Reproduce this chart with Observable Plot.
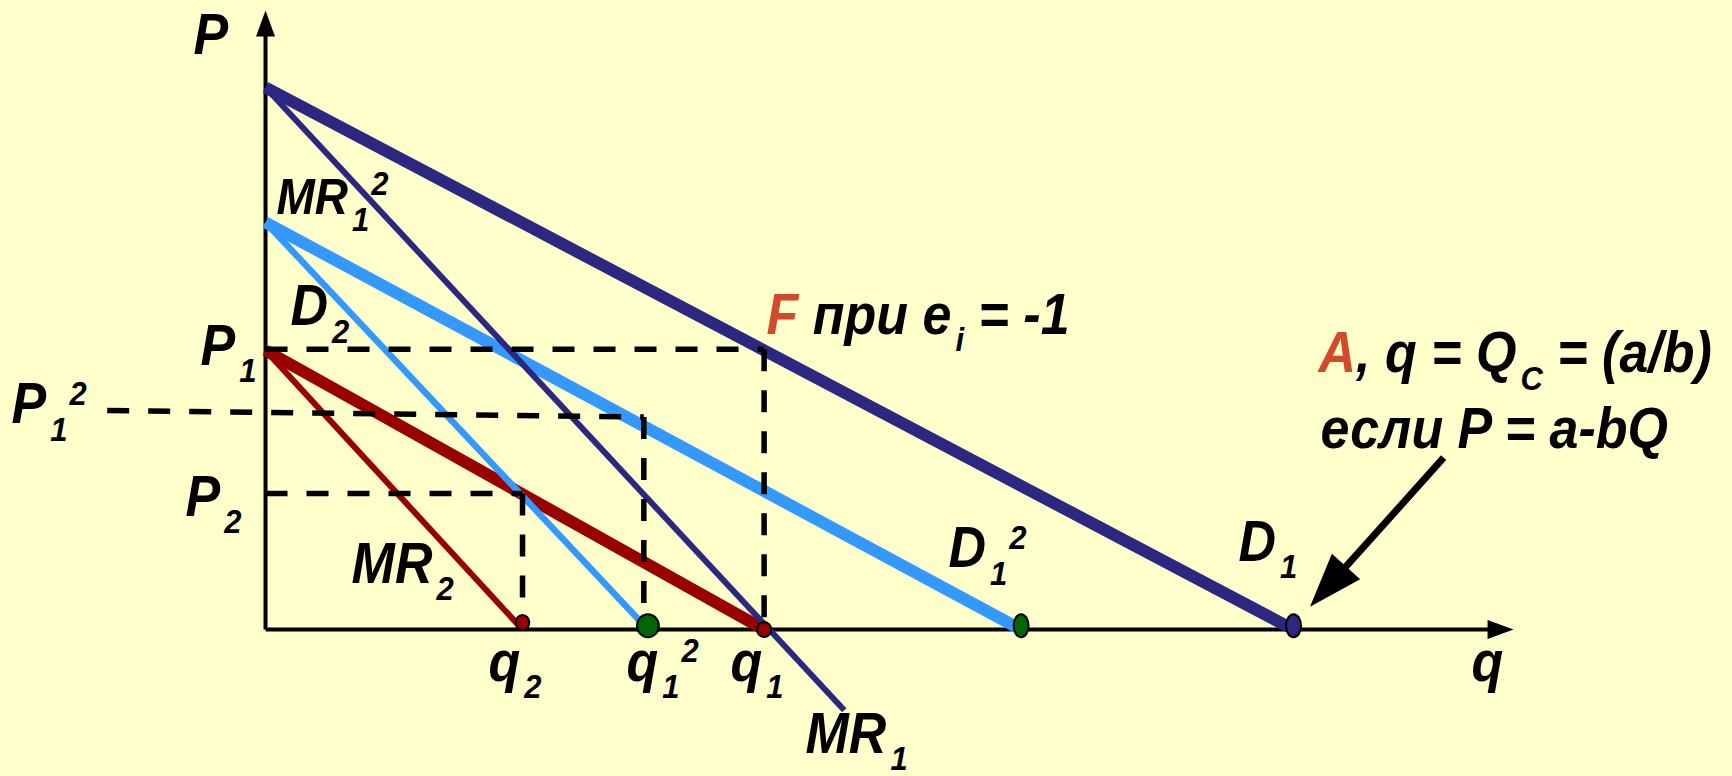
<!DOCTYPE html>
<html>
<head>
<meta charset="utf-8">
<script src="https://cdn.jsdelivr.net/npm/d3@7"></script>
<script src="https://cdn.jsdelivr.net/npm/@observablehq/plot@0.6"></script>
<style>
html, body { margin: 0; padding: 0; background: #FFFFCC; overflow: hidden; }
#chart svg text { white-space: pre; }
</style>
</head>
<body>
<div id="chart"></div>
<script>
// ---------- data (q = quantity, P = price, abstract units) ----------
// Demand / marginal revenue lines: start and end points
const curveNames  = ["MR2", "D2", "MR1^2", "D1^2", "MR1", "D1"];
const curveStartQ = [0,    0,    0,    0,    0,    0];
const curveStartP = [5.15, 5.15, 7.51, 7.51, 10,   10];
const curveEndQ   = [2.50, 4.85, 3.72, 7.35, 5.63, 10];
const curveEndP   = [0,    0,    0,    0,   -1.49, 0];

// Dashed guide segments (P1, P1^2, P2 levels and q1, q1^2, q2 drops)
const guideStartQ = [0,    4.85, -1.54, 3.68, 0,    2.50];
const guideStartP = [5.17, 5.17, 4.04,  3.92, 2.51, 2.51];
const guideEndQ   = [4.85, 4.85, 3.68,  3.68, 2.50, 2.50];
const guideEndP   = [5.17, 0,    3.92,  0,    2.51, 0.10];

// Points on the q axis
const pointNames = ["q2", "q1^2", "q1", "D1^2 end", "D1 end"];
const pointQ     = [2.50, 3.72, 4.85, 7.35, 10];
const pointP     = [0.13, 0.07, 0,    0.07, 0.07];

// Axes extents (arrow tips)
const qAxisTip = 12.14;
const pAxisTip = 11.42;

// Annotation arrow pointing at A
const noteArrowStart = [11.46, 3.17];
const noteArrowTip   = [10.16, 0.42];

// Labels ( _x = subscript, ^x = superscript, {..} = red )
const labelText = ["P", "MR_1^2", "D_2", "P_1", "P_1^2", "P_2", "MR_2", "q_2", "q_1^2", "q_1",
                   "MR_1", "q", "D_1^2", "D_1", "{F} при e_i = -1", "{A}, q = Q_C = (a/b)", "если P = a-bQ"];
const labelQ = [-0.70, 0.107, 0.243, -0.632, -2.471, -0.778, 0.837, 2.169, 3.512, 4.523,
                5.253, 11.732, 6.644, 9.465, 4.874, 10.243, 10.263];
const labelP = [10.627, 7.675, 5.609, 4.889, 3.801, 2.103, 0.867, -0.941, -0.941, -0.941,
                -2.27, -0.941, 1.144, 1.273, 5.461, 4.742, 3.34];

// ---------- styles ----------
const W = 1732, H = 776;
const xDomain = [-2.578, 14.270];
const yDomain = [-2.712, 11.605];
const NAVY = "#2c2882", LBLUE = "#3399ff", DRED = "#990000", GREEN = "#006600", TRED = "#d24a2a";
const curveStyle = {
  "MR2":   {stroke: DRED,  width: 6},
  "D2":    {stroke: DRED,  width: 12},
  "MR1^2": {stroke: LBLUE, width: 6.5},
  "D1^2":  {stroke: LBLUE, width: 12},
  "MR1":   {stroke: NAVY,  width: 6},
  "D1":    {stroke: NAVY,  width: 12}
};
const pointStyle = {
  "q2":       {fill: DRED,  r: 7.5, aspect: 0.9},
  "q1^2":     {fill: GREEN, r: 11.5, aspect: 0.95},
  "q1":       {fill: DRED,  r: 7.5, aspect: 0.95},
  "D1^2 end": {fill: GREEN, r: 11.5, aspect: 0.65},
  "D1 end":   {fill: NAVY,  r: 11.5, aspect: 0.65}
};
const FONT = "'Liberation Sans', Arial, Helvetica, sans-serif";
const smallLabels = new Set(["MR_1^2"]);
const TEXT_SCALE_Y = 1.1;

// ---------- helpers ----------
const xs = Plot.scale({x: {domain: xDomain, range: [0, W]}});
const ys = Plot.scale({y: {domain: yDomain, range: [H, 0]}});

function ellipseSymbol(aspect) {
  return {
    draw(ctx, size) {
      const ry = Math.sqrt(size / Math.PI), rx = ry * aspect, k = 0.5523;
      ctx.moveTo(rx, 0);
      ctx.bezierCurveTo(rx, k * ry, k * rx, ry, 0, ry);
      ctx.bezierCurveTo(-k * rx, ry, -rx, k * ry, -rx, 0);
      ctx.bezierCurveTo(-rx, -k * ry, -k * rx, -ry, 0, -ry);
      ctx.bezierCurveTo(k * rx, -ry, rx, -k * ry, rx, 0);
      ctx.closePath();
    }
  };
}
function headSymbol(angle, len, hw) {
  const c = Math.cos(angle), s = Math.sin(angle);
  return {
    draw(ctx) {
      ctx.moveTo(0, 0);
      ctx.lineTo(-len * c + hw * s, -len * s - hw * c);
      ctx.lineTo(-len * c - hw * s, -len * s + hw * c);
      ctx.closePath();
    }
  };
}
// point pulled back from a tip (in pixels) along a direction, returned in data units
function pullBack(fromQ, fromP, tipQ, tipP, px) {
  const x0 = xs.apply(fromQ), y0 = ys.apply(fromP), x1 = xs.apply(tipQ), y1 = ys.apply(tipP);
  const L = Math.hypot(x1 - x0, y1 - y0);
  return [xs.invert(x1 - (x1 - x0) / L * px), ys.invert(y1 - (y1 - y0) / L * px)];
}

// ---------- marks ----------
const marks = [];

// axes
const qAxisEnd = pullBack(0, 0, qAxisTip, 0, 20);
const pAxisEnd = pullBack(0, 0, 0, pAxisTip, 20);
marks.push(Plot.link([0], {x1: 0, y1: 0, x2: qAxisEnd[0], y2: 0, stroke: "black", strokeWidth: 4}));
marks.push(Plot.link([0], {x1: 0, y1: 0, x2: 0, y2: pAxisEnd[1], stroke: "black", strokeWidth: 4}));
marks.push(Plot.dot([0], {x: qAxisTip, y: 0, r: 5, fill: "black", stroke: "none", symbol: headSymbol(0, 26, 9.5)}));
marks.push(Plot.dot([0], {x: 0, y: pAxisTip, r: 5, fill: "black", stroke: "none", symbol: headSymbol(-Math.PI / 2, 26, 9.5)}));

// curves
curveNames.forEach((name, i) => {
  const st = curveStyle[name];
  marks.push(Plot.link([i], {
    x1: curveStartQ[i], y1: curveStartP[i], x2: curveEndQ[i], y2: curveEndP[i],
    stroke: st.stroke, strokeWidth: st.width, strokeLinecap: "butt"
  }));
});

// dashed guides
const guideIdx = guideStartQ.map((_, i) => i);
marks.push(Plot.link(guideIdx, {
  x1: (i) => guideStartQ[i], y1: (i) => guideStartP[i],
  x2: (i) => guideEndQ[i], y2: (i) => guideEndP[i],
  stroke: "black", strokeWidth: 5.5, strokeDasharray: "22,19", strokeLinecap: "butt"
}));

// points
pointNames.forEach((name, i) => {
  const st = pointStyle[name];
  marks.push(Plot.dot([i], {
    x: pointQ[i], y: pointP[i], r: st.r, fill: st.fill, stroke: "black", strokeWidth: 2,
    symbol: ellipseSymbol(st.aspect)
  }));
});

// annotation arrow
const ax0 = xs.apply(noteArrowStart[0]), ay0 = ys.apply(noteArrowStart[1]);
const ax1 = xs.apply(noteArrowTip[0]), ay1 = ys.apply(noteArrowTip[1]);
const noteAngle = Math.atan2(ay1 - ay0, ax1 - ax0);
const shaftEnd = pullBack(noteArrowStart[0], noteArrowStart[1], noteArrowTip[0], noteArrowTip[1], 40);
marks.push(Plot.link([0], {x1: noteArrowStart[0], y1: noteArrowStart[1], x2: shaftEnd[0], y2: shaftEnd[1],
  stroke: "black", strokeWidth: 7, strokeLinecap: "butt"}));
marks.push(Plot.dot([0], {x: noteArrowTip[0], y: noteArrowTip[1], r: 5, fill: "black", stroke: "none",
  symbol: headSymbol(noteAngle, 54, 19)}));

// labels
const labelIdx = labelText.map((_, i) => i);
marks.push(Plot.text(labelIdx, {
  x: (i) => labelQ[i], y: (i) => labelP[i], text: (i) => labelText[i],
  fontSize: (i) => smallLabels.has(labelText[i]) ? 46 : 52,
  textAnchor: "start", lineAnchor: "bottom",
  fontFamily: FONT, fontWeight: "bold", fontStyle: "italic", fill: "black"
}));

const chart = Plot.plot({
  width: W, height: H,
  marginTop: 0, marginRight: 0, marginBottom: 0, marginLeft: 0,
  x: {domain: xDomain, axis: null},
  y: {domain: yDomain, axis: null},
  style: {background: "#FFFFCC", overflow: "visible", fontFamily: FONT},
  marks
});
document.getElementById("chart").appendChild(chart);

// rich text: subscripts, superscripts and red parts; slight vertical stretch
const SUB = 16, SUP = -17, SCRIPT_SIZE = 31;
d3.select(chart).selectAll("text").each(function () {
  const el = this;
  // move x/y attributes into the transform so that the stretch is anchored at the baseline start
  const ax = el.getAttribute("x"), ay = el.getAttribute("y");
  let tr = el.getAttribute("transform") || "";
  if (ax !== null || ay !== null) {
    tr = `${tr} translate(${+ax || 0},${+ay || 0})`;
    el.removeAttribute("x"); el.removeAttribute("y");
  }
  el.setAttribute("transform", `${tr} scale(1,${TEXT_SCALE_Y})`);

  const s = el.textContent;
  const segs = [];
  let red = false, buf = "";
  const push = (t, kind) => { if (t) segs.push({t, kind, red}); };
  for (let k = 0; k < s.length; k++) {
    const ch = s[k];
    if (ch === "_" || ch === "^") {
      push(buf, "n"); buf = "";
      push(s[k + 1], ch === "_" ? "sub" : "sup"); k++;
    } else if (ch === "{") { push(buf, "n"); buf = ""; red = true; }
    else if (ch === "}") { push(buf, "n"); buf = ""; red = false; }
    else buf += ch;
  }
  push(buf, "n");
  while (el.firstChild) el.removeChild(el.firstChild);
  let off = 0;
  segs.forEach((sg) => {
    const ts = document.createElementNS("http://www.w3.org/2000/svg", "tspan");
    const target = sg.kind === "sub" ? SUB : sg.kind === "sup" ? SUP : 0;
    if (target !== off) ts.setAttribute("dy", target - off);
    off = target;
    if (sg.kind !== "n") {
      ts.setAttribute("font-size", SCRIPT_SIZE);
      ts.setAttribute("dx", sg.kind === "sub" ? 4 : 2);
    }
    if (sg.red) ts.setAttribute("fill", TRED);
    ts.textContent = sg.t;
    el.appendChild(ts);
  });
});
</script>
</body>
</html>
